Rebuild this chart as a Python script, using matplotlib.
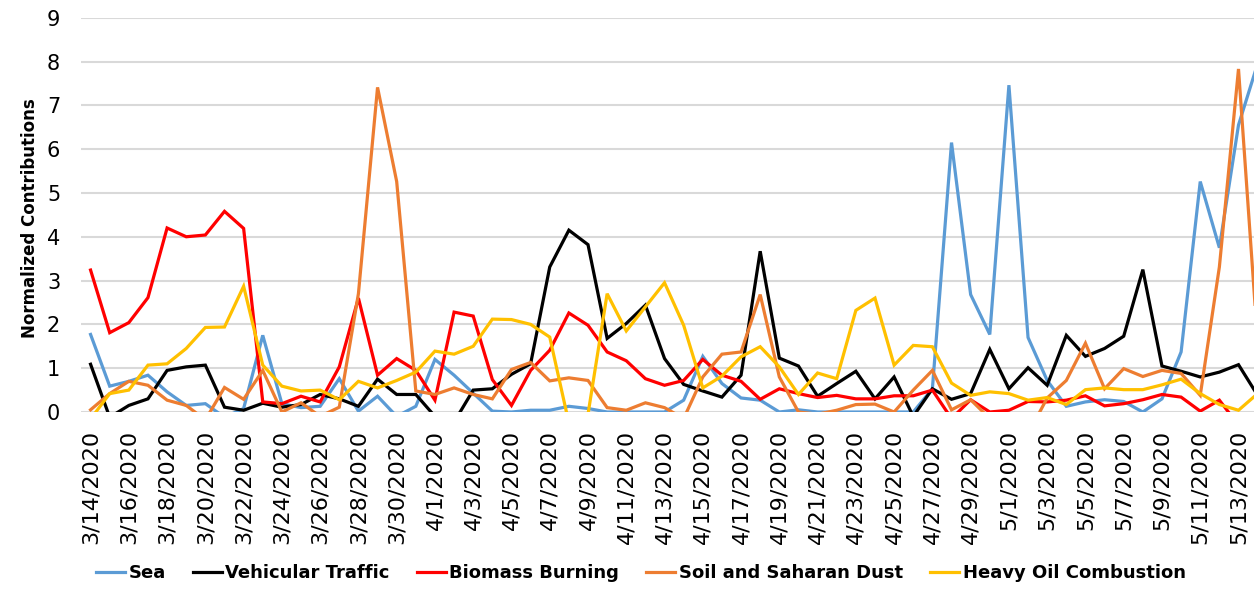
import matplotlib
matplotlib.use("Agg")
import matplotlib.pyplot as plt
import pandas as pd
import numpy as np

dates = pd.date_range("2020-03-14", periods=62, freq="D")
date_labels = [f"{d.month}/{d.day}/{d.year}" for d in dates]

sea = [1.77, 0.59, 0.70, 0.84, 0.46, 0.15, 0.19, -0.12, 0.08, 1.75,
       0.19, 0.10, 0.13, 0.76, 0.02, 0.36, -0.10, 0.13, 1.20, 0.84,
       0.43, 0.02, 0.00, 0.04, 0.04, 0.13, 0.08, 0.00, 0.00, 0.00,
       0.00, 0.27, 1.27, 0.65, 0.32, 0.27, 0.00, 0.05, 0.00, 0.00,
       0.00, 0.00, 0.00, 0.00, 0.53, 6.15, 2.68, 1.77, 7.46, 1.70,
       0.72, 0.13, 0.23, 0.28, 0.24, 0.00, 0.30, 1.37, 5.26, 3.75,
       6.55, 7.95]

vehicular = [1.09, -0.12, 0.15, 0.30, 0.95, 1.03, 1.07, 0.11, 0.04, 0.20,
             0.11, 0.17, 0.40, 0.30, 0.13, 0.75, 0.40, 0.40, -0.10, -0.23,
             0.50, 0.53, 0.86, 1.10, 3.31, 4.15, 3.82, 1.68, 2.02, 2.44,
             1.22, 0.63, 0.48, 0.34, 0.84, 3.67, 1.23, 1.05, 0.36, 0.65,
             0.93, 0.30, 0.80, -0.10, 0.53, 0.29, 0.42, 1.43, 0.53, 1.01,
             0.61, 1.75, 1.27, 1.45, 1.73, 3.25, 1.05, 0.93, 0.80, 0.91,
             1.08, 0.38]

biomass = [3.24, 1.81, 2.04, 2.61, 4.20, 4.00, 4.04, 4.58, 4.19, 0.23,
           0.19, 0.36, 0.23, 1.03, 2.60, 0.84, 1.22, 0.95, 0.27, 2.28,
           2.19, 0.74, 0.15, 0.95, 1.41, 2.26, 1.98, 1.37, 1.17, 0.76,
           0.61, 0.72, 1.20, 0.84, 0.70, 0.29, 0.53, 0.42, 0.33, 0.38,
           0.30, 0.30, 0.37, 0.37, 0.50, -0.15, 0.28, 0.00, 0.04, 0.24,
           0.23, 0.27, 0.37, 0.14, 0.19, 0.28, 0.40, 0.34, 0.02, 0.27,
           -0.30, -0.20]

soil = [0.05, 0.42, 0.70, 0.61, 0.27, 0.15, -0.18, 0.56, 0.29, 0.95,
        0.00, 0.21, -0.10, 0.11, 2.70, 7.41, 5.26, 0.48, 0.40, 0.55,
        0.40, 0.30, 0.97, 1.13, 0.71, 0.78, 0.72, 0.10, 0.04, 0.21,
        0.10, -0.15, 0.80, 1.32, 1.37, 2.68, 0.80, 0.00, -0.05, 0.04,
        0.17, 0.18, 0.00, 0.50, 0.95, 0.05, 0.28, -0.15, -0.30, -0.50,
        0.32, 0.72, 1.57, 0.53, 0.99, 0.81, 0.95, 0.88, 0.38, 3.31,
        7.83, 1.60]

heavy_oil = [-0.16, 0.42, 0.50, 1.07, 1.10, 1.45, 1.93, 1.94, 2.87, 1.07,
             0.59, 0.48, 0.50, 0.28, 0.70, 0.55, 0.72, 0.91, 1.39, 1.32,
             1.50, 2.12, 2.11, 2.00, 1.71, -0.25, -0.05, 2.70, 1.85, 2.40,
             2.95, 1.98, 0.55, 0.82, 1.26, 1.49, 1.03, 0.40, 0.89, 0.76,
             2.32, 2.60, 1.07, 1.52, 1.49, 0.66, 0.38, 0.46, 0.42, 0.27,
             0.33, 0.17, 0.51, 0.55, 0.51, 0.51, 0.62, 0.75, 0.42, 0.17,
             0.04, 0.42]

series_names = ["Sea", "Vehicular Traffic", "Biomass Burning",
                "Soil and Saharan Dust", "Heavy Oil Combustion"]
series_values = [sea, vehicular, biomass, soil, heavy_oil]
series_colors = ["#5B9BD5", "#000000", "#FF0000", "#ED7D31", "#FFC000"]

W, H = 1254, 589
fig = plt.figure(figsize=(W / 100, H / 100), dpi=100)
left, right_px, top_px, bottom_px = 81, 1254, 17.7, 412
ax = fig.add_axes([left / W, (H - bottom_px) / H, (right_px - left) / W,
                   (bottom_px - top_px) / H])

x = np.arange(len(date_labels))
for name, vals, col in zip(series_names, series_values, series_colors):
    ax.plot(x, vals, color=col, lw=2.3, label=name, solid_joinstyle="miter")

ax.set_ylim(0, 9)
ax.set_xlim(-0.5, 60.81)
ax.set_yticks(range(0, 10))
ax.set_xticks(x[::2])
ax.set_xticklabels(date_labels[::2], rotation=90, fontsize=16)
ax.tick_params(axis="x", length=0, pad=13)
ax.tick_params(axis="y", length=0, pad=15, labelsize=15)
ax.grid(axis="y", color="#D9D9D9", lw=1.5)
ax.set_axisbelow(True)
for s in ax.spines.values():
    s.set_visible(False)

fig.text(30 / W, 1 - 218 / H, "Normalized Contributions", rotation=90,
         ha="center", va="center", fontsize=12, fontweight="bold")

leg = fig.legend(loc="center", bbox_to_anchor=(0.511, 1 - 573 / H), ncol=5,
                 frameon=False, handlelength=1.6, handletextpad=0.2,
                 columnspacing=1.5, prop={"weight": "bold", "size": 13})

fig.savefig("out.png", dpi=100)
